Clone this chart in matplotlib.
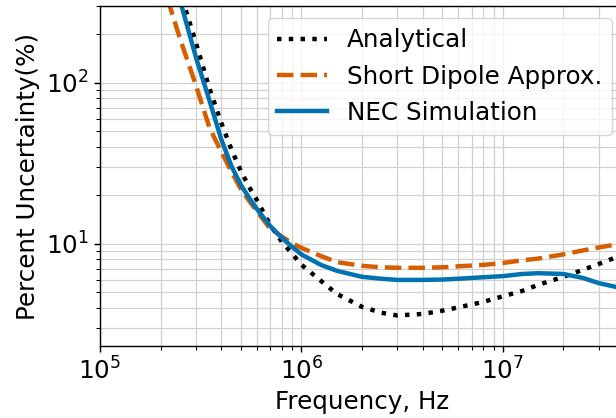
import matplotlib
matplotlib.use('Agg')
import matplotlib.pyplot as plt

# frequency grid (Hz) shared by all three curves
freq_hz = [2e5, 2.5e5, 3e5, 3.5e5, 4e5, 4.5e5, 5e5, 5.5e5, 6e5, 7e5, 8e5, 9e5,
           1e6, 1.25e6, 1.5e6, 2e6, 2.5e6, 3e6, 4e6, 5e6, 6e6, 8e6,
           1e7, 1.25e7, 1.5e7, 2e7, 2.5e7, 3e7, 3.65e7, 4e7]

# percent uncertainty
analytical = [891, 367, 176, 91.8, 56.5, 38.4, 28.4, 22.6, 18.8, 13.1, 10.3, 8.67,
              7.42, 5.89, 4.89, 4.06, 3.73, 3.59, 3.67, 3.84, 4.03, 4.36,
              4.72, 5.1, 5.56, 6.24, 6.9, 7.5, 8.25, 8.6]
short_dipole = [455, 187, 95.8, 52.5, 37.3, 28.0, 21.9, 18.5, 16.0, 12.4, 11.1, 10.1,
                9.44, 8.4, 7.7, 7.3, 7.15, 7.1, 7.1, 7.15, 7.25, 7.4,
                7.6, 7.9, 8.1, 8.6, 9.1, 9.5, 9.9, 10.1]
nec_sim = [807, 323, 143, 77.3, 44.6, 30.3, 23.3, 19.3, 16.5, 12.9, 10.9, 9.57,
           8.6, 7.4, 6.8, 6.24, 6.07, 5.97, 5.97, 6.0, 6.07, 6.2,
           6.3, 6.5, 6.57, 6.5, 6.14, 5.7, 5.4, 5.25]

s = 1.27  # scale factor on matplotlib defaults
plt.rcParams['font.size'] = 14 * s
plt.rcParams['axes.linewidth'] = 0.8 * s
plt.rcParams['xtick.major.size'] = 3.5 * s
plt.rcParams['ytick.major.size'] = 3.5 * s
plt.rcParams['xtick.minor.size'] = 2 * s
plt.rcParams['ytick.minor.size'] = 2 * s
plt.rcParams['xtick.major.width'] = 0.8 * s
plt.rcParams['ytick.major.width'] = 0.8 * s
plt.rcParams['xtick.minor.width'] = 0.6 * s
plt.rcParams['ytick.minor.width'] = 0.6 * s

fig = plt.figure(figsize=(6.16, 4.18), dpi=100)
ax = fig.add_axes([100 / 616, 72 / 418, 524 / 616, 340 / 418])

ax.loglog(freq_hz, analytical, ':', color='black', lw=3.2, label='Analytical')
ax.loglog(freq_hz, short_dipole, '--', color='#D55E00', lw=3.2, label='Short Dipole Approx.')
ax.loglog(freq_hz, nec_sim, '-', color='#0072B2', lw=3.2, label='NEC Simulation')

ax.set_xlim(1e5, 4e7)
ax.set_ylim(2.32, 300)
ax.grid(True, which='both', color='#d0d0d0', lw=0.9)
ax.set_xlabel('Frequency, Hz')
ax.set_ylabel('Percent Uncertainty(%)')
ax.legend(loc='upper right')

fig.savefig('out.png', dpi=100)
